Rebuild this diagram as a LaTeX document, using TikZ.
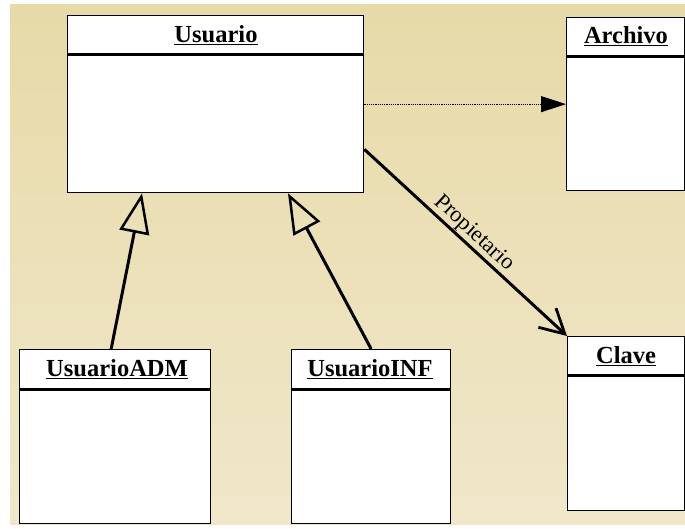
\documentclass[tikz,border=0pt]{standalone}
\usepackage{fontspec}
\setmainfont{Liberation Serif}
\usetikzlibrary{arrows.meta}
\definecolor{bgtop}{HTML}{E7DAA8}
\definecolor{bgbot}{HTML}{F0E7CA}
\tikzset{
  cls/.style={draw=black, line width=1.3pt, fill=white, anchor=north west, inner sep=0pt},
  divider/.style={line width=3pt, black},
  clstitle/.style={font=\fontsize{24.5}{28}\selectfont\bfseries, inner sep=1pt},
  gen/.style={line width=3pt, -{Triangle[open, length=40pt, width=30pt, line width=2.5pt]}},
  dep/.style={line width=0.8pt, dash pattern=on 1.2pt off 1pt, -{Triangle[length=25pt, width=16pt]}},
  assoc/.style={line width=3pt, -{Straight Barb[length=24pt, width=26pt, line width=2.8pt]}},
  lbl/.style={font=\fontsize{22.5}{26}\selectfont, inner sep=1pt}
}
\begin{document}
\begin{tikzpicture}[x=1pt,y=1pt]
\useasboundingbox (0,0) rectangle (685,-529);
\fill[white] (0,0) rectangle (685,-529);
\shade[top color=bgtop, bottom color=bgbot] (10,-5) rectangle (685,-524);

% class boxes
\node[cls, minimum width=296pt, minimum height=177pt] (usu) at (67,-15) {};
\draw[divider] (67,-55) -- (363,-55);
\node[clstitle] (usuT) at (216,-35) {\underline{Usuario}};

\node[cls, minimum width=118pt, minimum height=173pt] (arc) at (566,-17) {};
\draw[divider] (566,-57) -- (684,-57);
\node[clstitle] (arcT) at (626,-36) {\underline{Archivo}};

\node[cls, minimum width=117pt, minimum height=174pt] (cla) at (567,-336) {};
\draw[divider] (567,-375) -- (684,-375);
\node[clstitle] (claT) at (626,-356) {\underline{Clave}};

\node[cls, minimum width=191pt, minimum height=174pt] (adm) at (19,-349) {};
\draw[divider] (19,-389) -- (210,-389);
\node[clstitle] (admT) at (117,-369) {\underline{UsuarioADM}};

\node[cls, minimum width=159pt, minimum height=174pt] (inf) at (291,-349) {};
\draw[divider] (291,-389) -- (450,-389);
\node[clstitle] (infT) at (370,-369) {\underline{UsuarioINF}};

% connectors
\draw[dep] (usu.east) -- (arc.west);
\draw[assoc] ([yshift=44pt]usu.south east) -- node[lbl, sloped, above, pos=0.5] {Propietario} (cla.north west);
\draw[gen] ([xshift=-4pt]adm.north) -- ([xshift=75pt]usu.south west);
\draw[gen] (inf.north) -- ([xshift=221pt]usu.south west);
\end{tikzpicture}
\end{document}
